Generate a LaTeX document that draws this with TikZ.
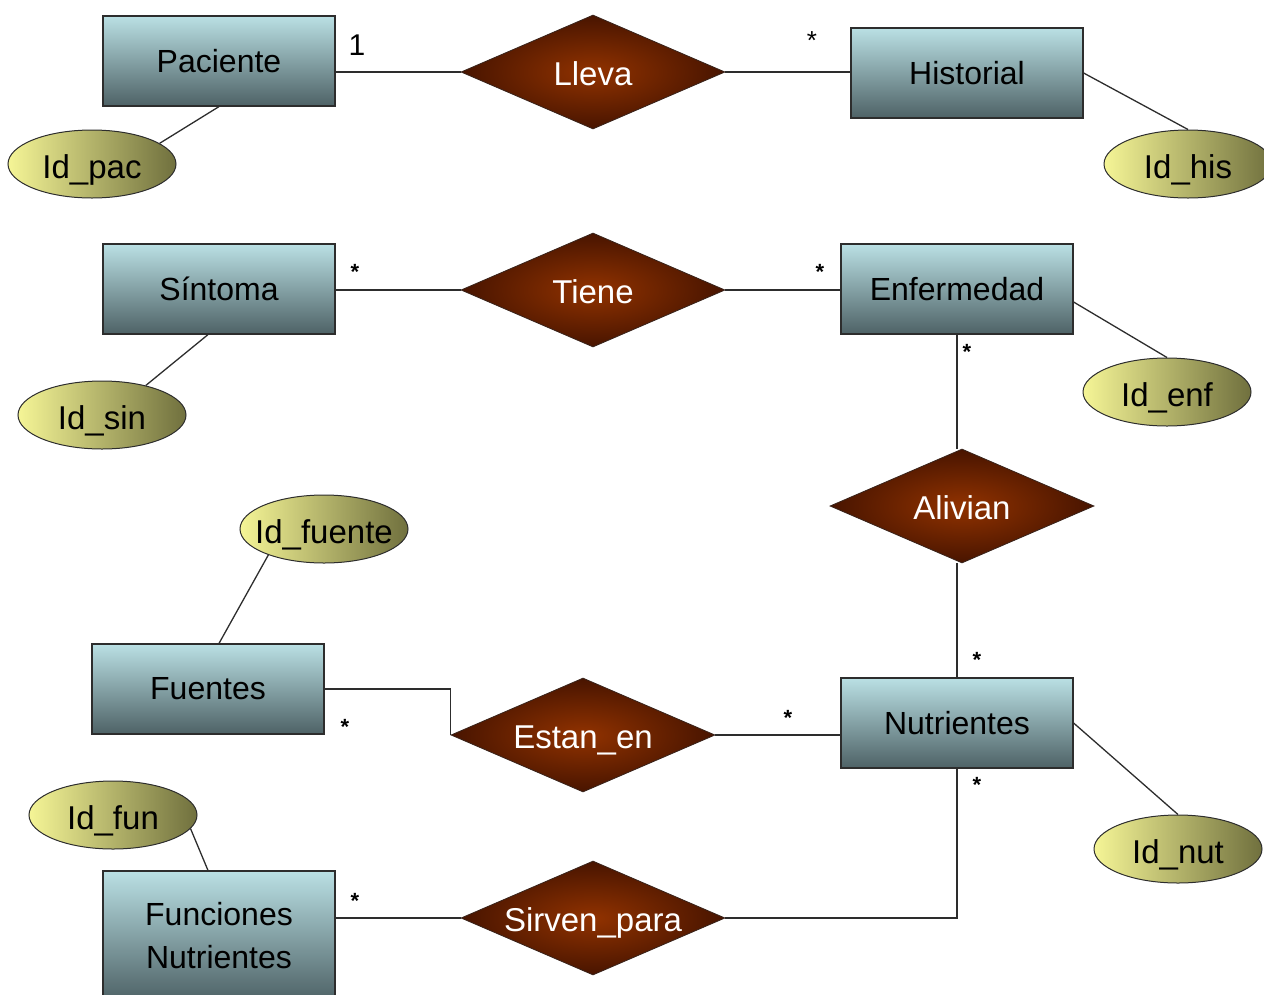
\documentclass[tikz,border=0pt]{standalone}
\usepackage{fontspec}
\setmainfont{Liberation Sans}
\usetikzlibrary{shapes.geometric,calc}
\definecolor{enttop}{RGB}{186,224,228}
\definecolor{entbot}{RGB}{78,98,102}
\definecolor{relin}{RGB}{145,50,0}
\definecolor{relmid}{RGB}{110,36,0}
\definecolor{relout}{RGB}{72,20,0}
\definecolor{attl}{RGB}{245,245,150}
\definecolor{attm}{RGB}{200,200,110}
\definecolor{attr}{RGB}{112,112,62}
\definecolor{edgec}{RGB}{45,45,45}
\pgfdeclareradialshading{relshade}{\pgfpoint{0bp}{0bp}}{color(0bp)=(relin); color(12bp)=(relmid); color(25bp)=(relout); color(50bp)=(relout)}
\begin{document}
\begin{tikzpicture}[x=1pt,y=-1pt,
  entity/.style={draw=edgec, line width=1.2pt, rectangle, top color=enttop, bottom color=entbot,
    minimum width=232pt, minimum height=90pt, inner sep=0pt, font=\fontsize{32}{43}\selectfont, align=center},
  relation/.style={diamond, aspect=2.3, shading=relshade, draw=edgec!60!relout, line width=0.8pt,
    minimum width=264pt, minimum height=114pt, inner sep=0pt, text=white, text height=26pt, text depth=0pt,
    font=\fontsize{33}{38}\selectfont},
  attribute/.style={ellipse, draw=edgec, line width=1pt, left color=attl, middle color=attm, right color=attr,
    minimum width=168pt, minimum height=68pt, inner sep=0pt, text width=0pt, text height=28pt, text depth=0pt,
    font=\fontsize{33}{38}\selectfont},
  conn/.style={draw=edgec, line width=1.3pt},
  card/.style={inner sep=0pt, font=\fontsize{22}{24}\selectfont\bfseries},
]
\useasboundingbox (0,0) rectangle (1264,994);
\clip (0,0) rectangle (1264,994);
% entities
\node[entity] (pac) at (219,61) {Paciente};
\node[entity] (his) at (967,73) {Historial};
\node[entity] (sin) at (219,289) {Síntoma};
\node[entity] (enf) at (957,289) {Enfermedad};
\node[entity] (fue) at (208,689) {Fuentes};
\node[entity] (nut) at (957,723) {Nutrientes};
\node[entity, minimum height=130pt] (fun) at (219,936) {Funciones\\Nutrientes};
% relations
\node[relation] (lle) at (593,72) {Lleva};
\node[relation] (tie) at (593,290) {Tiene};
\node[relation] (ali) at (962,506) {Alivian};
\node[relation] (est) at (583,735) {Estan\_en};
\node[relation] (sir) at (593,918) {Sirven\_para};
% attributes
\node[attribute] (idpac) at (92,164) {\makebox[0pt]{Id\_pac}};
\node[attribute] (idhis) at (1188,164) {\makebox[0pt]{Id\_his}};
\node[attribute] (idsin) at (102,415) {\makebox[0pt]{Id\_sin}};
\node[attribute] (idenf) at (1167,392) {\makebox[0pt]{Id\_enf}};
\node[attribute] (idfue) at (324,529) {\makebox[0pt]{Id\_fuente}};
\node[attribute] (idnut) at (1178,849) {\makebox[0pt]{Id\_nut}};
\node[attribute] (idfun) at (113,815) {\makebox[0pt]{Id\_fun}};
% connectors
\draw[conn] (lle.west) -- (lle.west -| pac.east);
\draw[conn] (lle.east) -- (lle.east -| his.west);
\draw[conn] (tie.west) -- (tie.west -| sin.east);
\draw[conn] (tie.east) -- (tie.east -| enf.west);
\draw[conn] (enf.south) -- (enf.south |- ali.north);
\draw[conn] (nut.north) -- (nut.north |- ali.south);
\draw[conn] (fue.east) -| (est.west);
\draw[conn] (est.east) -- (est.east -| nut.west);
\draw[conn] (sir.east) -| (nut.south);
\draw[conn] (sir.west) -- (sir.west -| fun.east);
\draw[conn] (pac.south) -- (idpac.17);
\draw[conn] (his.east) -- (idhis.north);
\draw[conn] ($(sin.south)+(-11,0)$) -- (idsin.34);
\draw[conn] ($(enf.east)+(0,13)$) -- (idenf.north);
\draw[conn] ($(fue.north)+(11,0)$) -- (idfue.205);
\draw[conn] (nut.east) -- (idnut.north);
\draw[conn] ($(fun.north)+(-11,0)$) -- (idfun.-10);
% cardinalities
\node[inner sep=0pt, font=\fontsize{30}{32}\selectfont] (c1) at (357,45) {1};
\node[inner sep=0pt, font=\fontsize{26}{28}\selectfont] (c2) at (812,41) {*};
\node[card] (c3) at (355,272) {*};
\node[card] (c4) at (820,272) {*};
\node[card] (c5) at (967,352) {*};
\node[card] (c6) at (977,660) {*};
\node[card] (c7) at (345,727) {*};
\node[card] (c8) at (788,718) {*};
\node[card] (c9) at (977,785) {*};
\node[card] (c10) at (355,901) {*};
\end{tikzpicture}
\end{document}
